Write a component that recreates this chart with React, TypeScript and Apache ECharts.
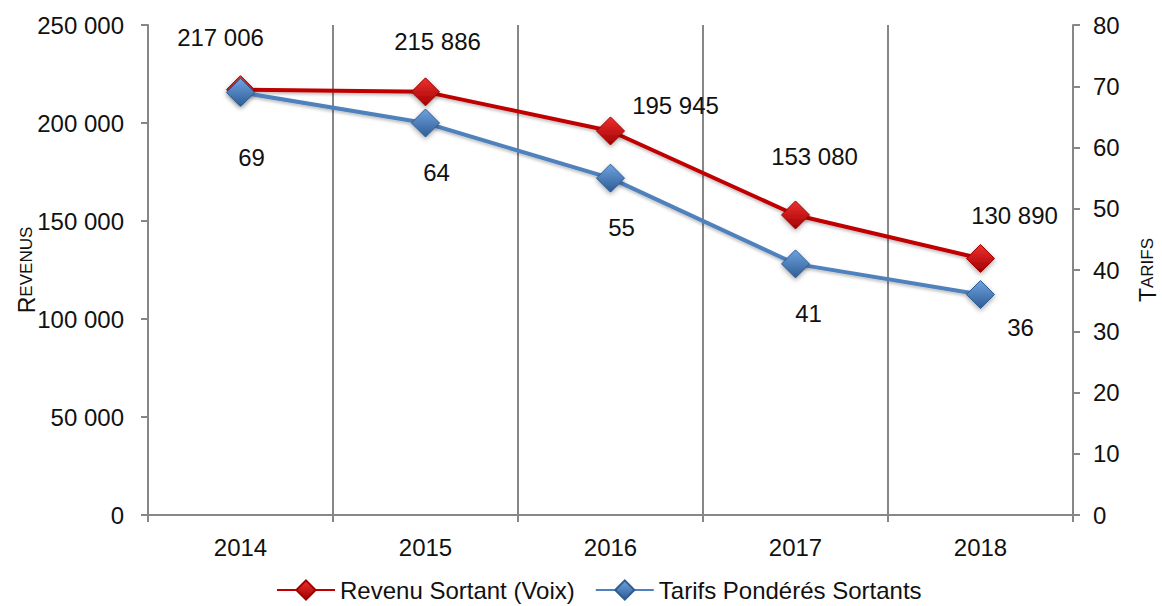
import React, { useEffect, useRef } from "react";
import * as echarts from "echarts";

const categories = ["2014", "2015", "2016", "2017", "2018"];
const revenus = [217006, 215886, 195945, 153080, 130890];
const tarifs = [69, 64, 55, 41, 36];
const revenusLabelOffsets = [[-20, -52], [12, -50], [65, -25], [19, -58], [34, -43]];
const tarifsLabelOffsets = [[11, 65], [11, 49], [11, 49], [13, 50], [40, 33]];

const FONT = "'Liberation Sans', Arial, sans-serif";
const fmt = (v: number) => String(v).replace(/\B(?=(\d{3})+(?!\d))/g, " ");

export default function App() {
  const ref = useRef<HTMLDivElement>(null);
  useEffect(() => {
    const chart = echarts.init(ref.current!, null, { renderer: "svg" });
    const axisColor = "#878787";
    const diamond = (c1: string, c2: string) => ({
      color: new echarts.graphic.LinearGradient(0, 0, 0, 1, [
        { offset: 0, color: c1 },
        { offset: 1, color: c2 },
      ]),
      borderColor: c2,
      borderWidth: 1,
      shadowColor: "rgba(0,0,0,0.35)",
      shadowBlur: 5,
      shadowOffsetY: 2,
    });
    chart.setOption({
      animation: false,
      textStyle: { fontFamily: FONT },
      grid: { left: 148, right: 89, top: 25, bottom: 91, containLabel: false, outerBoundsMode: "none" },
      legend: {
        top: 573,
        left: 271,
        itemWidth: 58,
        itemHeight: 24,
        itemGap: 20,
        textStyle: { fontSize: 24, color: "#111", fontFamily: FONT },
        data: ["Revenu Sortant (Voix)", "Tarifs Pondérés Sortants"],
      },
      xAxis: {
        type: "category",
        data: categories,
        boundaryGap: true,
        axisLine: { lineStyle: { color: axisColor, width: 2 } },
        axisTick: { show: true, length: 7, lineStyle: { color: axisColor, width: 2 } },
        splitLine: { show: true, lineStyle: { color: axisColor, width: 2 } },
        axisLabel: { fontSize: 24, color: "#111", margin: 20, fontFamily: FONT },
      },
      yAxis: [
        {
          type: "value",
          min: 0,
          max: 250000,
          interval: 50000,
          name: "{a|R}{b|EVENUS}",
          nameLocation: "middle",
          nameRotate: 90,
          nameGap: 110,
          nameMoveOverlap: false,
          nameTextStyle: {
            rich: {
              a: { fontSize: 23, color: "#111", fontFamily: FONT },
              b: { fontSize: 17, color: "#111", fontFamily: FONT },
            },
          },
          axisLine: { show: true, lineStyle: { color: axisColor, width: 2 } },
          axisTick: { show: true, length: 7, lineStyle: { color: axisColor, width: 2 } },
          splitLine: { show: false },
          axisLabel: { fontSize: 24, color: "#111", margin: 24, formatter: (v: number) => fmt(v), fontFamily: FONT },
        },
        {
          type: "value",
          min: 0,
          max: 80,
          interval: 10,
          name: "{a|T}{b|ARIFS}",
          nameLocation: "middle",
          nameRotate: 90,
          nameGap: 63,
          nameTextStyle: {
            rich: {
              a: { fontSize: 23, color: "#111", fontFamily: FONT },
              b: { fontSize: 17, color: "#111", fontFamily: FONT },
            },
          },
          axisLine: { show: true, lineStyle: { color: axisColor, width: 2 } },
          axisTick: { show: true, length: 7, lineStyle: { color: axisColor, width: 2 } },
          splitLine: { show: false },
          axisLabel: { fontSize: 24, color: "#111", margin: 20, fontFamily: FONT },
        },
      ],
      series: [
        {
          name: "Revenu Sortant (Voix)",
          type: "line",
          yAxisIndex: 0,
          symbol: "diamond",
          symbolSize: 28,
          color: "#C00000",
          lineStyle: { color: "#C00000", width: 4, shadowColor: "rgba(0,0,0,0.25)", shadowBlur: 3, shadowOffsetY: 2 },
          itemStyle: diamond("#F03030", "#A00000"),
          data: revenus.map((v, i) => ({
            value: v,
            label: {
              show: true,
              position: "inside",
              offset: revenusLabelOffsets[i],
              formatter: () => fmt(v),
              fontSize: 24,
              color: "#111",
              fontFamily: FONT,
            },
          })),
          z: 3,
        },
        {
          name: "Tarifs Pondérés Sortants",
          type: "line",
          yAxisIndex: 1,
          symbol: "diamond",
          symbolSize: 28,
          color: "#4F81BD",
          lineStyle: { color: "#4F81BD", width: 4, shadowColor: "rgba(0,0,0,0.25)", shadowBlur: 3, shadowOffsetY: 2 },
          itemStyle: diamond("#6FA3E0", "#2E5C94"),
          data: tarifs.map((v, i) => ({
            value: v,
            label: {
              show: true,
              position: "inside",
              offset: tarifsLabelOffsets[i],
              formatter: () => String(v),
              fontSize: 24,
              color: "#111",
              fontFamily: FONT,
            },
          })),
          z: 4,
        },
      ],
    });
    return () => chart.dispose();
  }, []);
  return <div ref={ref} style={{ position: "absolute", left: 0, top: 0, width: 1162, height: 606 }} />;
}
